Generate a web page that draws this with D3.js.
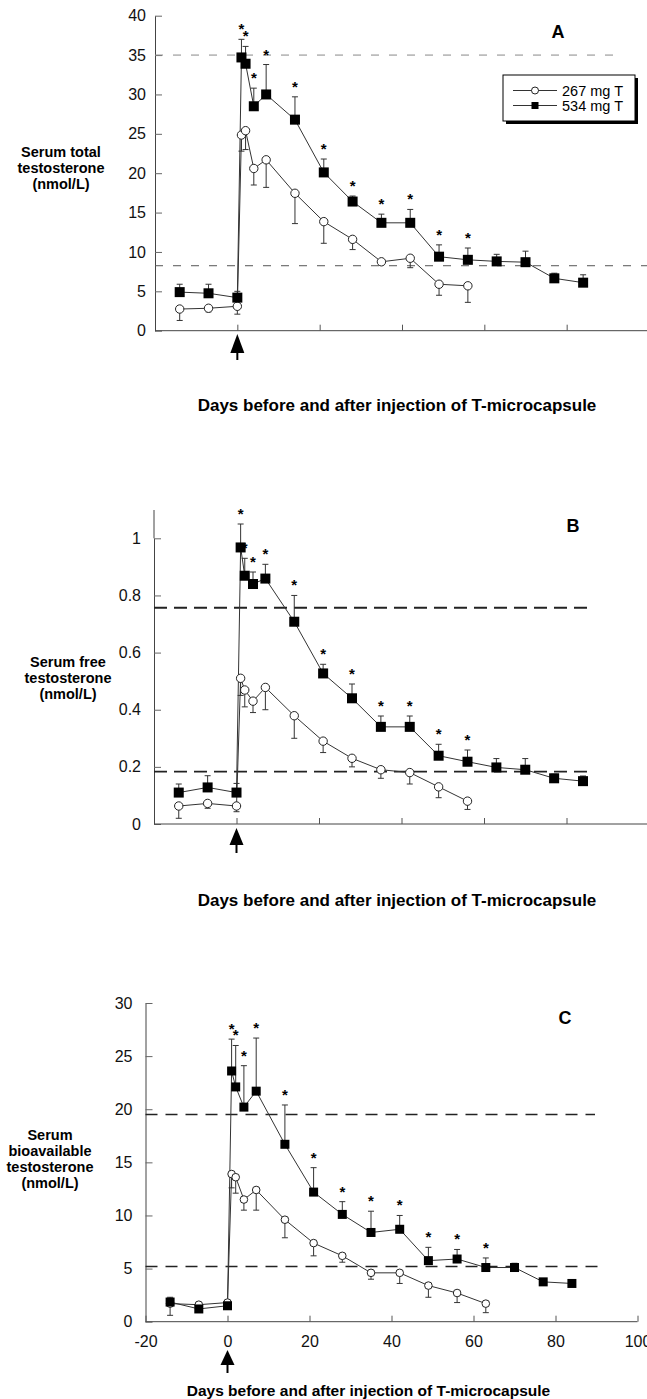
<!DOCTYPE html>
<html>
<head>
<meta charset="utf-8">
<script src="https://cdn.jsdelivr.net/npm/d3@7"></script>
<style>
  body { margin: 0; background: #fff; }
  svg { display: block; font-family: Arial, "Liberation Sans", sans-serif; }
</style>
</head>
<body>
<div id="chart"></div>
<script>
// sampling days (before and after injection)
const days = [-14, -7, 0, 1, 2, 4, 7, 14, 21, 28, 35, 42, 49, 56, 63, 70, 77, 84];
const doseLabels = ["267 mg T", "534 mg T"];
const xTitle = "Days before and after injection of T-microcapsule";

// panel A: serum total testosterone (nmol/L)
const totalLow = [2.75, 2.85, 3.1, 24.85, 25.4, 20.6, 21.7, 17.45, 13.85, 11.6, 8.75, 9.2, 5.9, 5.7];
const totalLowErr = [1.3, 2.4, 2.1, 22.8, 23.0, 18.5, 18.2, 13.6, 11.1, 10.3, 8.4, 8.0, 4.5, 3.6];
const totalHigh = [4.9, 4.75, 4.2, 34.7, 33.9, 28.5, 30.0, 26.8, 20.1, 16.4, 13.7, 13.7, 9.4, 9.0, 8.8, 8.7, 6.65, 6.1];
const totalHighErr = [5.9, 5.9, 5.0, 37.0, 36.1, 30.8, 33.8, 29.7, 21.8, 17.1, 14.8, 15.4, 10.9, 10.5, 9.7, 10.1, 7.3, 7.1];
const totalStars = [1, 2, 4, 7, 14, 21, 28, 35, 42, 49, 56];
const totalRefs = [8.25, 35];
const totalTicks = [0, 5, 10, 15, 20, 25, 30, 35, 40];

// panel B: serum free testosterone (nmol/L)
const freeLow = [0.063, 0.072, 0.063, 0.51, 0.469, 0.43, 0.478, 0.379, 0.29, 0.23, 0.19, 0.18, 0.13, 0.08];
const freeLowErr = [0.02, 0.055, 0.043, 0.45, 0.41, 0.39, 0.40, 0.30, 0.25, 0.20, 0.16, 0.14, 0.092, 0.051];
const freeHigh = [0.11, 0.128, 0.11, 0.968, 0.869, 0.84, 0.859, 0.708, 0.527, 0.44, 0.34, 0.34, 0.239, 0.218, 0.198, 0.19, 0.16, 0.15];
const freeHighErr = [0.14, 0.169, 0.142, 1.05, 0.93, 0.882, 0.909, 0.80, 0.559, 0.49, 0.378, 0.378, 0.279, 0.259, 0.229, 0.229, 0.174, 0.168];
const freeStars = [1, 2, 4, 7, 14, 21, 28, 35, 42, 49, 56];
const freeRefs = [0.183, 0.757];
const freeTicks = [0, 0.2, 0.4, 0.6, 0.8, 1];

// panel C: serum bioavailable testosterone (nmol/L)
const bioLow = [1.7, 1.6, 1.8, 13.9, 13.6, 11.5, 12.4, 9.6, 7.4, 6.2, 4.6, 4.6, 3.4, 2.7, 1.7];
const bioLowErr = [0.6, 1.2, 1.4, 12.6, 12.1, 10.5, 10.5, 7.9, 6.2, 5.6, 4.0, 3.6, 2.3, 1.8, 0.85];
const bioHigh = [1.85, 1.2, 1.5, 23.6, 22.1, 20.2, 21.7, 16.7, 12.2, 10.1, 8.4, 8.7, 5.75, 5.9, 5.1, 5.1, 3.75, 3.6];
const bioHighErr = [2.3, 1.5, 2.0, 26.6, 26.0, 24.1, 26.7, 20.4, 14.5, 11.3, 10.4, 10.0, 7.0, 6.8, 6.0, 5.5, 3.9, 3.7];
const bioStars = [1, 2, 4, 7, 14, 21, 28, 35, 42, 49, 56, 63];
const bioRefs = [5.2, 19.5];
const bioTicks = [0, 5, 10, 15, 20, 25, 30];
const dayTicks = [-20, 0, 20, 40, 60, 80, 100];

const W = 647, H = 1399;

const svg = d3.select("#chart").append("svg")
    .attr("width", W)
    .attr("height", H);

/** zip a series with its days and error ends */
function series(vals, errs) {
    return vals.map((v, i) => ({ day: days[i], v: v, e: errs[i] }));
}

/** draws one panel */
function drawPanel(p) {
    const x = d3.scaleLinear().domain([-20, 100]).range(p.xr);
    const y = d3.scaleLinear().domain([0, p.yMax]).range(p.yr);
    const g = svg.append("g");

    // y axis, inward ticks
    const ya = g.append("g")
        .attr("transform", `translate(${p.xr[0]},0)`)
        .call(d3.axisLeft(y).tickValues(p.yTicks).tickSizeInner(-7).tickSizeOuter(0)
            .tickPadding(p.yPad).tickFormat(d => String(d)));
    ya.select(".domain").attr("stroke", "#444");
    ya.selectAll(".tick line").attr("stroke", "#666");
    ya.selectAll("text").attr("font-size", 16).attr("fill", "#111");

    // x axis
    const xa = g.append("g")
        .attr("transform", `translate(0,${p.yr[0]})`)
        .call(d3.axisBottom(x).tickValues(p.xTicks).tickSizeInner(-6).tickSizeOuter(0)
            .tickPadding(14).tickFormat(p.xLabels ? (d => String(d)) : ""));
    xa.select(".domain").attr("stroke", "#444").attr("d", `M${p.xr[0]},0H${p.xEnd}`);
    xa.selectAll(".tick line").attr("stroke", "#555");
    xa.selectAll("text").attr("font-size", 16).attr("fill", "#111");

    // reference range lines
    p.refs.forEach((r, i) => {
        g.append("line")
            .attr("x1", p.xr[0]).attr("x2", p.refEnd[i])
            .attr("y1", y(r)).attr("y2", y(r))
            .attr("stroke", p.refColor[i])
            .attr("stroke-width", p.refWidth)
            .attr("stroke-dasharray", p.refDash);
    });

    const line = d3.line().x(d => x(d.day)).y(d => y(d.v));
    const high = series(p.high, p.highErr);
    const low = series(p.low, p.lowErr);

    [high, low].forEach(s => {
        g.append("path").datum(s)
            .attr("d", line)
            .attr("fill", "none")
            .attr("stroke", "#333")
            .attr("stroke-width", 1);
    });

    // error bars: up for 534 mg, down for 267 mg
    [high, low].forEach(s => {
        const eb = g.append("g").attr("stroke", "#333").attr("stroke-width", 1);
        s.forEach(d => {
            eb.append("line")
                .attr("x1", x(d.day)).attr("x2", x(d.day))
                .attr("y1", y(d.v)).attr("y2", y(d.e));
            eb.append("line")
                .attr("x1", x(d.day) - 3).attr("x2", x(d.day) + 3)
                .attr("y1", y(d.e)).attr("y2", y(d.e));
        });
    });

    // markers
    g.append("g").selectAll("circle").data(low).join("circle")
        .attr("cx", d => x(d.day)).attr("cy", d => y(d.v))
        .attr("r", p.r)
        .attr("fill", "#fff").attr("stroke", "#222").attr("stroke-width", 1);
    g.append("g").selectAll("rect").data(high).join("rect")
        .attr("x", d => x(d.day) - p.sq / 2).attr("y", d => y(d.v) - p.sq / 2)
        .attr("width", p.sq).attr("height", p.sq)
        .attr("fill", "#000");

    // significance stars
    g.append("g").selectAll("text").data(high.filter(d => p.stars.includes(d.day))).join("text")
        .attr("x", d => x(d.day))
        .attr("y", d => y(d.e) - 5)
        .attr("text-anchor", "middle")
        .attr("font-size", 15)
        .attr("font-weight", "bold")
        .text("*");

    // arrow marking the injection
    const ax = x(0);
    g.append("path")
        .attr("d", `M${ax},${p.arrow[0]}L${ax - 7},${p.arrow[1]}L${ax + 7},${p.arrow[1]}Z`)
        .attr("fill", "#000");
    g.append("line")
        .attr("x1", ax).attr("x2", ax)
        .attr("y1", p.arrow[1]).attr("y2", p.arrow[2])
        .attr("stroke", "#000").attr("stroke-width", 2);

    // y title
    const yt = g.append("text")
        .attr("text-anchor", "middle")
        .attr("font-size", 14.5)
        .attr("font-weight", "bold");
    p.yTitle.forEach((t, i) => {
        yt.append("tspan").attr("x", p.yTitlePos[0]).attr("y", p.yTitlePos[1] + i * 16).text(t);
    });

    // x title
    g.append("text")
        .attr("x", p.xTitlePos[0]).attr("y", p.xTitlePos[1])
        .attr("text-anchor", "middle")
        .attr("font-size", p.xTitleSize)
        .attr("font-weight", "bold")
        .text(xTitle);

    // panel letter
    g.append("text")
        .attr("x", p.letterPos[0]).attr("y", p.letterPos[1])
        .attr("text-anchor", "middle")
        .attr("font-size", 18)
        .attr("font-weight", "bold")
        .text(p.letter);

    return { x, y, g };
}

drawPanel({
    xr: [155, 649], yr: [330.7, 15.7], yMax: 40, xEnd: 647,
    yTicks: totalTicks, yPad: 9, xTicks: [0, 20, 40, 60, 80], xLabels: false,
    refs: totalRefs, refEnd: [647, 623], refColor: ["#555", "#888"], refWidth: 1, refDash: "8,10",
    low: totalLow, lowErr: totalLowErr, high: totalHigh, highErr: totalHighErr, stars: totalStars,
    r: 4.2, sq: 10, arrow: [334, 353, 360],
    yTitle: ["Serum total", "testosterone", "(nmol/L)"], yTitlePos: [61, 157],
    xTitlePos: [397, 411], xTitleSize: 17, letter: "A", letterPos: [558, 37.5]
});

drawPanel({
    xr: [154, 649], yr: [824, 538.3], yMax: 1, xEnd: 647,
    yTicks: freeTicks, yPad: 13, xTicks: [0, 20, 40, 60, 80], xLabels: false,
    refs: freeRefs, refEnd: [593, 593], refColor: ["#222", "#222"], refWidth: 1.8, refDash: "13,7",
    low: freeLow, lowErr: freeLowErr, high: freeHigh, highErr: freeHighErr, stars: freeStars,
    r: 4.2, sq: 10, arrow: [828, 845, 853],
    yTitle: ["Serum free", "testosterone", "(nmol/L)"], yTitlePos: [68, 667],
    xTitlePos: [397, 906], xTitleSize: 17, letter: "B", letterPos: [573, 531.5]
});
// extend panel B y axis a little above the top tick
svg.append("line").attr("x1", 154).attr("x2", 154).attr("y1", 510).attr("y2", 538.3).attr("stroke", "#444");

// legend (panel A)
const legend = svg.append("g").attr("transform", "translate(503,75)");
legend.append("rect").attr("x", 3).attr("y", 3).attr("width", 132).attr("height", 46).attr("fill", "#000");
legend.append("rect").attr("width", 132).attr("height", 46).attr("fill", "#fff").attr("stroke", "#000");
doseLabels.forEach((lab, i) => {
    const ly = 15.5 + i * 15;
    legend.append("line").attr("x1", 10).attr("x2", 54).attr("y1", ly).attr("y2", ly)
        .attr("stroke", "#333");
    if (i === 0) {
        legend.append("circle").attr("cx", 32).attr("cy", ly).attr("r", 3.5)
            .attr("fill", "#fff").attr("stroke", "#222");
    } else {
        legend.append("rect").attr("x", 28.5).attr("y", ly - 3.5).attr("width", 7).attr("height", 7)
            .attr("fill", "#000");
    }
    legend.append("text").attr("x", 59).attr("y", ly + 5).attr("font-size", 14.5).text(lab);
});

drawPanel({
    xr: [145.5, 637.5], yr: [1321.7, 1003], yMax: 30, xEnd: 637.5,
    yTicks: bioTicks, yPad: 13, xTicks: dayTicks, xLabels: true,
    refs: bioRefs, refEnd: [603, 595], refColor: ["#222", "#222"], refWidth: 1.5, refDash: "12,8",
    low: bioLow, lowErr: bioLowErr, high: bioHigh, highErr: bioHighErr, stars: bioStars,
    r: 3.8, sq: 9, arrow: [1350, 1365, 1373],
    yTitle: ["Serum", "bioavailable", "testosterone", "(nmol/L)"], yTitlePos: [50, 1140],
    xTitlePos: [368.5, 1396], xTitleSize: 15.5, letter: "C", letterPos: [565, 1023.5]
});
</script>
</body>
</html>
